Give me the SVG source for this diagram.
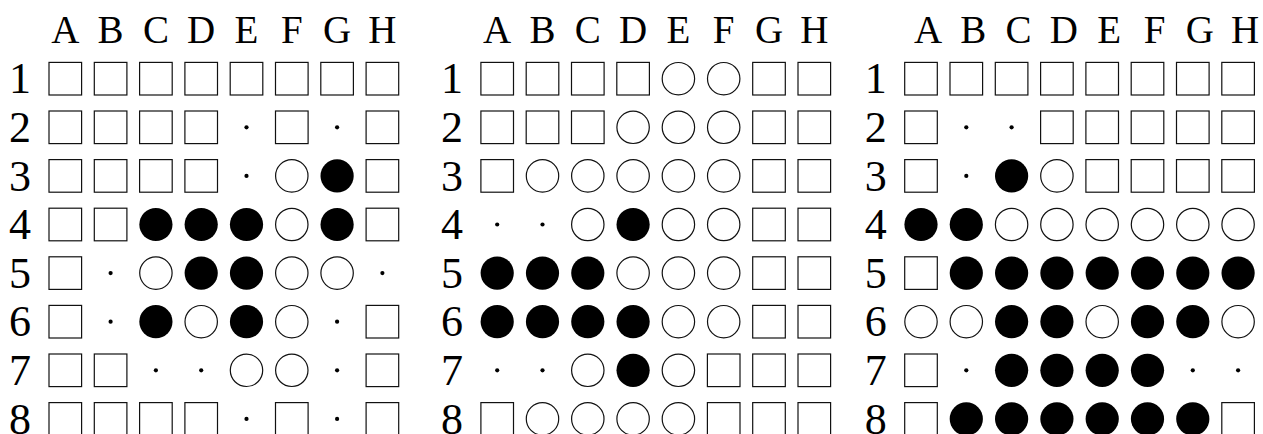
<svg xmlns="http://www.w3.org/2000/svg" width="1263" height="434" viewBox="0 0 1263 434">
<style>
text{font-family:'Liberation Serif','Times New Roman',serif;fill:#000;text-anchor:middle;font-weight:normal}
.col{font-size:39px}
.row{font-size:44px}
</style>
<defs>
<rect id="s" x="-16.3" y="-16.3" width="32.6" height="32.6" fill="#fff" stroke="#111" stroke-width="1.2"/>
<circle id="w" r="16.2" fill="#fff" stroke="#111" stroke-width="1.2"/>
<circle id="b" r="16.6" fill="#000"/>
<circle id="d" r="2.1" fill="#000"/>
</defs>
<rect width="1263" height="434" fill="#fff"/>

<g id="board1" transform="translate(65.3,0)" font-family="Liberation Serif, serif">
<g id="b1-cols">
<text class="col" x="0" y="43.3">A</text><text class="col" x="45.3" y="43.3">B</text><text class="col" x="90.6" y="43.3">C</text><text class="col" x="135.9" y="43.3">D</text><text class="col" x="181.2" y="43.3">E</text><text class="col" x="226.5" y="43.3">F</text><text class="col" x="271.8" y="43.3">G</text><text class="col" x="317.1" y="43.3">H</text>
</g>
<g transform="translate(0,78.7)"><text class="row" x="-45.3" y="14.6">1</text><use href="#s" x="0"/><use href="#s" x="45.3"/><use href="#s" x="90.6"/><use href="#s" x="135.9"/><use href="#s" x="181.2"/><use href="#s" x="226.5"/><use href="#s" x="271.8"/><use href="#s" x="317.1"/></g>
<g transform="translate(0,127.3)"><text class="row" x="-45.3" y="14.6">2</text><use href="#s" x="0"/><use href="#s" x="45.3"/><use href="#s" x="90.6"/><use href="#s" x="135.9"/><use href="#d" x="181.2"/><use href="#s" x="226.5"/><use href="#d" x="271.8"/><use href="#s" x="317.1"/></g>
<g transform="translate(0,175.9)"><text class="row" x="-45.3" y="14.6">3</text><use href="#s" x="0"/><use href="#s" x="45.3"/><use href="#s" x="90.6"/><use href="#s" x="135.9"/><use href="#d" x="181.2"/><use href="#w" x="226.5"/><use href="#b" x="271.8"/><use href="#s" x="317.1"/></g>
<g transform="translate(0,224.5)"><text class="row" x="-45.3" y="14.6">4</text><use href="#s" x="0"/><use href="#s" x="45.3"/><use href="#b" x="90.6"/><use href="#b" x="135.9"/><use href="#b" x="181.2"/><use href="#w" x="226.5"/><use href="#b" x="271.8"/><use href="#s" x="317.1"/></g>
<g transform="translate(0,273.1)"><text class="row" x="-45.3" y="14.6">5</text><use href="#s" x="0"/><use href="#d" x="45.3"/><use href="#w" x="90.6"/><use href="#b" x="135.9"/><use href="#b" x="181.2"/><use href="#w" x="226.5"/><use href="#w" x="271.8"/><use href="#d" x="317.1"/></g>
<g transform="translate(0,321.7)"><text class="row" x="-45.3" y="14.6">6</text><use href="#s" x="0"/><use href="#d" x="45.3"/><use href="#b" x="90.6"/><use href="#w" x="135.9"/><use href="#b" x="181.2"/><use href="#w" x="226.5"/><use href="#d" x="271.8"/><use href="#s" x="317.1"/></g>
<g transform="translate(0,370.3)"><text class="row" x="-45.3" y="14.6">7</text><use href="#s" x="0"/><use href="#s" x="45.3"/><use href="#d" x="90.6"/><use href="#d" x="135.9"/><use href="#w" x="181.2"/><use href="#w" x="226.5"/><use href="#d" x="271.8"/><use href="#s" x="317.1"/></g>
<g transform="translate(0,418.9)"><text class="row" x="-45.3" y="14.6">8</text><use href="#s" x="0"/><use href="#s" x="45.3"/><use href="#s" x="90.6"/><use href="#s" x="135.9"/><use href="#d" x="181.2"/><use href="#s" x="226.5"/><use href="#d" x="271.8"/><use href="#s" x="317.1"/></g>
</g>

<g id="board2" transform="translate(497.2,0)" font-family="Liberation Serif, serif">
<g id="b2-cols">
<text class="col" x="0" y="43.3">A</text><text class="col" x="45.3" y="43.3">B</text><text class="col" x="90.6" y="43.3">C</text><text class="col" x="135.9" y="43.3">D</text><text class="col" x="181.2" y="43.3">E</text><text class="col" x="226.5" y="43.3">F</text><text class="col" x="271.8" y="43.3">G</text><text class="col" x="317.1" y="43.3">H</text>
</g>
<g transform="translate(0,78.7)"><text class="row" x="-45.3" y="14.6">1</text><use href="#s" x="0"/><use href="#s" x="45.3"/><use href="#s" x="90.6"/><use href="#s" x="135.9"/><use href="#w" x="181.2"/><use href="#w" x="226.5"/><use href="#s" x="271.8"/><use href="#s" x="317.1"/></g>
<g transform="translate(0,127.3)"><text class="row" x="-45.3" y="14.6">2</text><use href="#s" x="0"/><use href="#s" x="45.3"/><use href="#s" x="90.6"/><use href="#w" x="135.9"/><use href="#w" x="181.2"/><use href="#w" x="226.5"/><use href="#s" x="271.8"/><use href="#s" x="317.1"/></g>
<g transform="translate(0,175.9)"><text class="row" x="-45.3" y="14.6">3</text><use href="#s" x="0"/><use href="#w" x="45.3"/><use href="#w" x="90.6"/><use href="#w" x="135.9"/><use href="#w" x="181.2"/><use href="#w" x="226.5"/><use href="#s" x="271.8"/><use href="#s" x="317.1"/></g>
<g transform="translate(0,224.5)"><text class="row" x="-45.3" y="14.6">4</text><use href="#d" x="0"/><use href="#d" x="45.3"/><use href="#w" x="90.6"/><use href="#b" x="135.9"/><use href="#w" x="181.2"/><use href="#w" x="226.5"/><use href="#s" x="271.8"/><use href="#s" x="317.1"/></g>
<g transform="translate(0,273.1)"><text class="row" x="-45.3" y="14.6">5</text><use href="#b" x="0"/><use href="#b" x="45.3"/><use href="#b" x="90.6"/><use href="#w" x="135.9"/><use href="#w" x="181.2"/><use href="#w" x="226.5"/><use href="#s" x="271.8"/><use href="#s" x="317.1"/></g>
<g transform="translate(0,321.7)"><text class="row" x="-45.3" y="14.6">6</text><use href="#b" x="0"/><use href="#b" x="45.3"/><use href="#b" x="90.6"/><use href="#b" x="135.9"/><use href="#w" x="181.2"/><use href="#w" x="226.5"/><use href="#s" x="271.8"/><use href="#s" x="317.1"/></g>
<g transform="translate(0,370.3)"><text class="row" x="-45.3" y="14.6">7</text><use href="#d" x="0"/><use href="#d" x="45.3"/><use href="#w" x="90.6"/><use href="#b" x="135.9"/><use href="#w" x="181.2"/><use href="#s" x="226.5"/><use href="#s" x="271.8"/><use href="#s" x="317.1"/></g>
<g transform="translate(0,418.9)"><text class="row" x="-45.3" y="14.6">8</text><use href="#s" x="0"/><use href="#w" x="45.3"/><use href="#w" x="90.6"/><use href="#w" x="135.9"/><use href="#w" x="181.2"/><use href="#s" x="226.5"/><use href="#s" x="271.8"/><use href="#s" x="317.1"/></g>
</g>

<g id="board3" transform="translate(921,0)" font-family="Liberation Serif, serif">
<g id="b3-cols">
<text class="col" x="7" y="43.3">A</text><text class="col" x="52.3" y="43.3">B</text><text class="col" x="97.6" y="43.3">C</text><text class="col" x="142.9" y="43.3">D</text><text class="col" x="188.2" y="43.3">E</text><text class="col" x="233.5" y="43.3">F</text><text class="col" x="278.8" y="43.3">G</text><text class="col" x="324.1" y="43.3">H</text>
</g>
<g transform="translate(0,78.7)"><text class="row" x="-45.3" y="14.6">1</text><use href="#s" x="0"/><use href="#s" x="45.3"/><use href="#s" x="90.6"/><use href="#s" x="135.9"/><use href="#s" x="181.2"/><use href="#s" x="226.5"/><use href="#s" x="271.8"/><use href="#s" x="317.1"/></g>
<g transform="translate(0,127.3)"><text class="row" x="-45.3" y="14.6">2</text><use href="#s" x="0"/><use href="#d" x="45.3"/><use href="#d" x="90.6"/><use href="#s" x="135.9"/><use href="#s" x="181.2"/><use href="#s" x="226.5"/><use href="#s" x="271.8"/><use href="#s" x="317.1"/></g>
<g transform="translate(0,175.9)"><text class="row" x="-45.3" y="14.6">3</text><use href="#s" x="0"/><use href="#d" x="45.3"/><use href="#b" x="90.6"/><use href="#w" x="135.9"/><use href="#s" x="181.2"/><use href="#s" x="226.5"/><use href="#s" x="271.8"/><use href="#s" x="317.1"/></g>
<g transform="translate(0,224.5)"><text class="row" x="-45.3" y="14.6">4</text><use href="#b" x="0"/><use href="#b" x="45.3"/><use href="#w" x="90.6"/><use href="#w" x="135.9"/><use href="#w" x="181.2"/><use href="#w" x="226.5"/><use href="#w" x="271.8"/><use href="#w" x="317.1"/></g>
<g transform="translate(0,273.1)"><text class="row" x="-45.3" y="14.6">5</text><use href="#s" x="0"/><use href="#b" x="45.3"/><use href="#b" x="90.6"/><use href="#b" x="135.9"/><use href="#b" x="181.2"/><use href="#b" x="226.5"/><use href="#b" x="271.8"/><use href="#b" x="317.1"/></g>
<g transform="translate(0,321.7)"><text class="row" x="-45.3" y="14.6">6</text><use href="#w" x="0"/><use href="#w" x="45.3"/><use href="#b" x="90.6"/><use href="#b" x="135.9"/><use href="#w" x="181.2"/><use href="#b" x="226.5"/><use href="#b" x="271.8"/><use href="#w" x="317.1"/></g>
<g transform="translate(0,370.3)"><text class="row" x="-45.3" y="14.6">7</text><use href="#s" x="0"/><use href="#d" x="45.3"/><use href="#b" x="90.6"/><use href="#b" x="135.9"/><use href="#b" x="181.2"/><use href="#b" x="226.5"/><use href="#d" x="271.8"/><use href="#d" x="317.1"/></g>
<g transform="translate(0,418.9)"><text class="row" x="-45.3" y="14.6">8</text><use href="#s" x="0"/><use href="#b" x="45.3"/><use href="#b" x="90.6"/><use href="#b" x="135.9"/><use href="#b" x="181.2"/><use href="#b" x="226.5"/><use href="#b" x="271.8"/><use href="#s" x="317.1"/></g>
</g>
</svg>
